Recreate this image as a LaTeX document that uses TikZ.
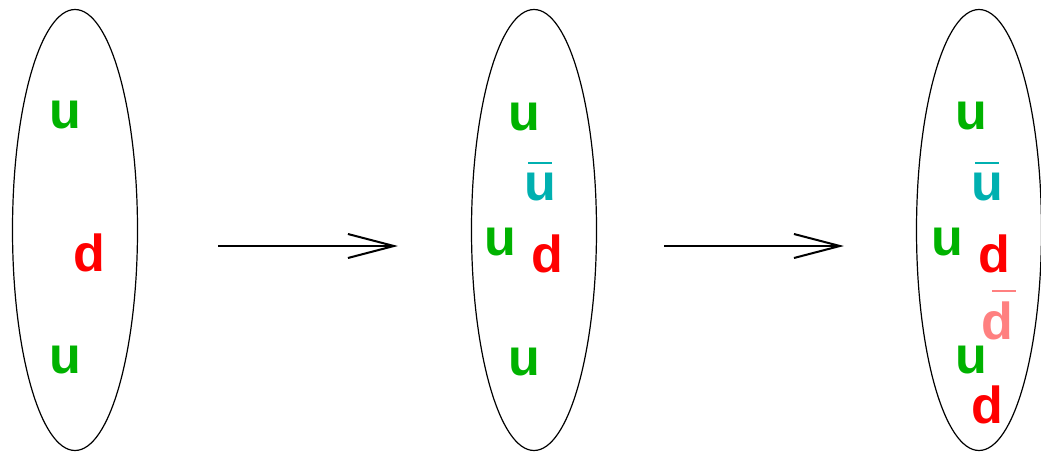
\documentclass[tikz,border=0pt]{standalone}
\usepackage{fontspec}
\setmainfont{Liberation Sans}
\usetikzlibrary{arrows.meta, shapes.geometric}
\definecolor{vertU}{RGB}{0,178,0}
\definecolor{rougeD}{RGB}{255,0,0}
\definecolor{bleuUbar}{RGB}{0,176,176}
\definecolor{roseDbar}{RGB}{255,128,128}
\tikzstyle{hadron} = [draw, ellipse, line width=1.2pt, minimum width=125pt, minimum height=441pt, inner sep=0pt]
\tikzstyle{fleche} = [-{Straight Barb[length=46pt,width=24pt]}, line width=2pt]
\tikzstyle{quark} = [font=\fontsize{52}{60}\selectfont\bfseries, anchor=base, inner sep=0pt]
% lettre surmontee d'une barre (antiquark) : lettre, decalage, hauteur
\newcommand{\anti}[3]{\makebox[0pt][l]{\hspace*{#2}\rule[#3]{24pt}{2.5pt}}#1}

\begin{document}
\begin{tikzpicture}[x=1pt, y=-1pt]
	\useasboundingbox (0,0) rectangle (1041,455);

%% Les trois ellipses
	\node[hadron] (h1) at (75,230) {};
	\node[hadron] (h2) at (534,230) {};
	\node[hadron] (h3) at (979,230) {};

%% fleches
	\draw[fleche, shorten <=80pt, shorten >=73pt] ([yshift=-16pt]h1.east) -- ([yshift=-16pt]h2.west);
	\draw[fleche, shorten <=67pt, shorten >=72pt] ([yshift=-16pt]h2.east) -- ([yshift=-16pt]h3.west);

%% proton
	\node[quark, vertU] (u1a) at (65,128) {u};
	\node[quark, rougeD] (d1) at (89,271) {d};
	\node[quark, vertU] (u1b) at (65,373) {u};

%% etape 2
	\node[quark, vertU] (u2a) at (524,130) {u};
	\node[quark, bleuUbar] (ub2) at (540,200) {\anti{u}{4pt}{36pt}};
	\node[quark, vertU] (u2c) at (500,255) {u};
	\node[quark, rougeD] (d2) at (547,272) {d};
	\node[quark, vertU] (u2b) at (524,375) {u};

%% etape 3
	\node[quark, vertU] (u3a) at (971,129) {u};
	\node[quark, bleuUbar] (ub3) at (987,200) {\anti{u}{4pt}{36pt}};
	\node[quark, vertU] (u3c) at (947,255) {u};
	\node[quark, rougeD] (d3a) at (994,272) {d};
	\node[quark, roseDbar] (db3) at (997,339) {\anti{d}{11pt}{47pt}};
	\node[quark, vertU] (u3b) at (971,373) {u};
	\node[quark, rougeD] (d3b) at (987,423) {d};

\end{tikzpicture}
\end{document}
